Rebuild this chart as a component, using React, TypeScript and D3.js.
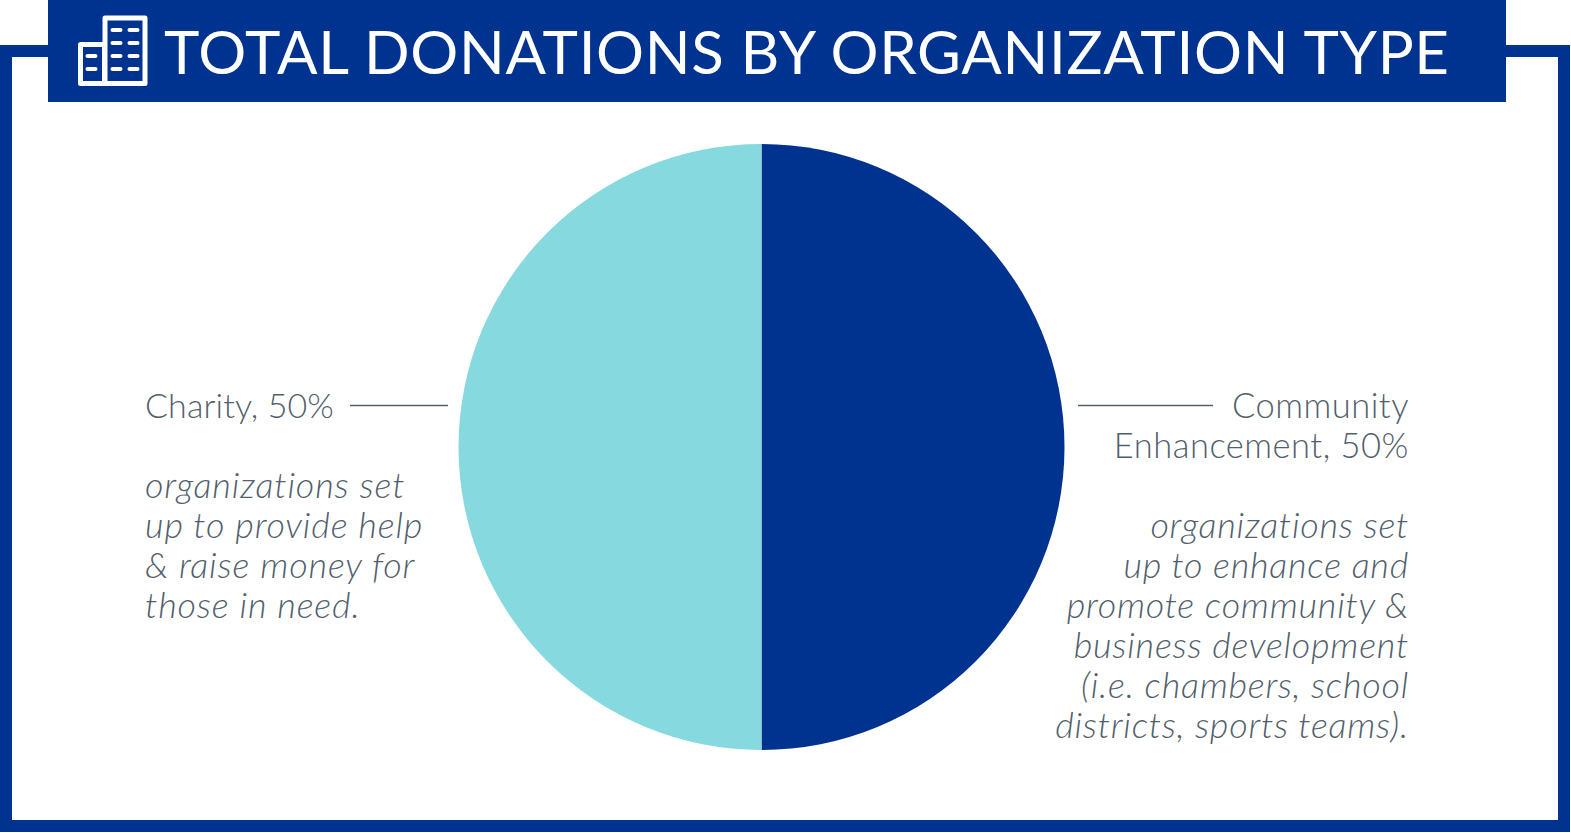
import React from "react";
import * as d3 from "d3";

const W = 1571, H = 833;
const NAVY = "#00338f", TEAL = "#86dadf", GREY = "#525f6d";
const categories = ["Community Enhancement", "Charity"];
const shares = [50, 50];
const title = "TOTAL DONATIONS BY ORGANIZATION TYPE";
const leftHead = ["Charity, 50%"];
const leftBody = ["organizations set", "up to provide help", "& raise money for", "those in need."];
const rightHead = ["Community", "Enhancement, 50%"];
const rightBody = ["organizations set", "up to enhance and", "promote community &", "business development", "(i.e. chambers, school", "districts, sports teams)."];
const colors = d3.scaleOrdinal<string, string>().domain(categories).range([NAVY, TEAL]);

const font = "Lato, sans-serif";

function Icon() {
  const wins = [
    ...[30, 43, 56, 69].flatMap(y => [116, 133].map(x => [x, y])),
    ...[56, 69].map(y => [91, y]),
  ];
  return (
    <g>
      <rect x={80.5} y={44.5} width={24} height={39} fill="none" stroke="#fff" strokeWidth={5} strokeLinejoin="round" />
      <rect x={105} y={18} width={40} height={65.5} fill="none" stroke="#fff" strokeWidth={5} strokeLinejoin="round" />
      {wins.map(([x, y], i) => (
        <rect key={i} x={x - 5.5} y={y - 2} width={12} height={4} rx={2} fill="#fff" />
      ))}
    </g>
  );
}

function Lines({ x, y, lines, anchor, italic, fs, ls, lh = 40 }: any) {
  return (
    <text fontFamily={font} fontWeight={300} fontSize={fs} letterSpacing={ls} fill={GREY} textAnchor={anchor} fontStyle={italic ? "italic" : "normal"}>
      {lines.map((l: string, i: number) => (
        <tspan key={i} x={x} y={y + i * lh}>{l}</tspan>
      ))}
    </text>
  );
}

export default function App() {
  const cx = 761.5, cy = 447, r = 303;
  const pie = d3.pie<number>().sort(null)(shares);
  const arc = d3.arc<d3.PieArcDatum<number>>().innerRadius(0).outerRadius(r);
  return (
    <svg width={W} height={H} viewBox={`0 0 ${W} ${H}`} style={{ position: "absolute", left: 0, top: 0, background: "#fff" }}>
      <rect x={6} y={51} width={1558} height={775} fill="none" stroke={NAVY} strokeWidth={12} />
      <rect x={48} y={0} width={1458} height={102} fill={NAVY} />
      <Icon />
      <text x={164} y={74} fontFamily={font} fontWeight={400} fontSize={60} fill="#fff" textLength={1285} lengthAdjust="spacing">{title}</text>
      <g transform={`translate(${cx},${cy})`}>
        {pie.map((d, i) => <path key={i} d={arc(d) || ""} fill={colors(categories[i])} />)}
      </g>
      <line x1={350} x2={448} y1={405.5} y2={405.5} stroke={GREY} strokeWidth={1.5} />
      <line x1={1078} x2={1213} y1={405.5} y2={405.5} stroke={GREY} strokeWidth={1.5} />
      <Lines x={145} y={418} lines={leftHead} anchor="start" fs={34} ls={0.1} />
      <Lines x={145} y={498} lines={leftBody} anchor="start" italic fs={36} ls={0.85} />
      <Lines x={1409} y={418} lines={rightHead} anchor="end" fs={34.5} ls={0.5} />
      <Lines x={1409} y={538} lines={rightBody} anchor="end" italic fs={36} ls={0.75} />
    </svg>
  );
}
